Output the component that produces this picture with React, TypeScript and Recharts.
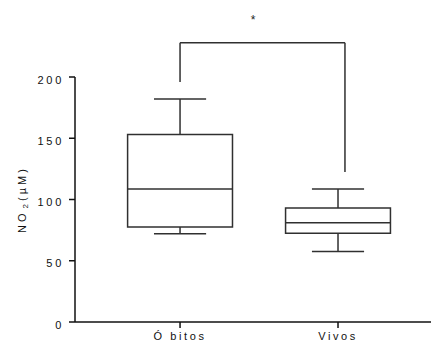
import React from 'react';
import {
  ComposedChart,
  XAxis,
  YAxis,
  ReferenceArea,
  ReferenceLine,
  ReferenceDot,
  Scatter,
} from 'recharts';

const categories = ['Ó bitos', 'Vivos'];
const positions = [0, 1];
const mins = [72, 57.5];
const q1s = [77.5, 72.5];
const medians = [108.5, 81];
const q3s = [153, 93];
const maxs = [182, 108.5];
const yTicks = [0, 50, 100, 150, 200];

// significance bracket: left x, right x, top, left end, right end
const bracketX = [0, 1.044];
const bracketTop = 228;
const bracketEnds = [196, 122.5];
const starPos = { x: 0.462, y: 249, text: '*' };

const BOX_HALF = 0.332;
const CAP_HALF = 0.165;
const LINE = '#303030';
const FONT = '"Liberation Sans", Arial, sans-serif';

const data = positions.map((p, i) => ({ x: p, y: medians[i] }));

const XTick = (props: any) => {
  const { x, y, payload } = props;
  const idx = positions.indexOf(payload.value);
  return (
    <text
      x={x}
      y={y + 8}
      textAnchor="middle"
      fontFamily={FONT}
      fontSize={11}
      letterSpacing={2.6}
      fill="#111"
    >
      {categories[idx]}
    </text>
  );
};

const YTick = (props: any) => {
  const { x, y, payload } = props;
  return (
    <text
      x={x}
      y={y + 6.5}
      textAnchor="end"
      fontFamily={FONT}
      fontSize={11}
      letterSpacing={2.7}
      fill="#111"
    >
      {payload.value}
    </text>
  );
};

const YLabel = (props: any) => {
  const vb = props.viewBox || { x: 7, y: 69, width: 60, height: 245 };
  const cx = vb.x + 11;
  const cy = vb.y + vb.height / 2;
  return (
    <text
      x={cx}
      y={cy}
      transform={`rotate(-90 ${cx} ${cy})`}
      textAnchor="middle"
      fontFamily={FONT}
      fontSize={11}
      letterSpacing={3}
      fill="#111"
    >
      NO
      <tspan fontSize={8} dy={1.5} dx={2}>2</tspan>
      <tspan dy={-1.5}>(µM)</tspan>
    </text>
  );
};

export default function App() {
  return (
    <ComposedChart
      width={431}
      height={343}
      data={data}
      margin={{ top: 69, right: 1, bottom: 0, left: 7 }}
    >
      <XAxis
        dataKey="x"
        type="number"
        domain={[-0.665, 1.633]}
        allowDataOverflow
        ticks={positions}
        tick={<XTick />}
        tickSize={6}
        tickMargin={4}
        height={29}
        stroke="#111"
        strokeWidth={1.5}
        interval={0}
      />
      <YAxis
        type="number"
        domain={[0, 200]}
        ticks={yTicks}
        tick={<YTick />}
        tickSize={6}
        tickMargin={5}
        width={60}
        stroke="#111"
        strokeWidth={1.5}
        allowDataOverflow
        label={<YLabel />}
      />
      {positions.map((p, i) => (
        <ReferenceLine
          key={`wu${i}`}
          segment={[{ x: p, y: q3s[i] }, { x: p, y: maxs[i] }]}
          stroke={LINE}
          strokeWidth={1.5}
        />
      ))}
      {positions.map((p, i) => (
        <ReferenceLine
          key={`wl${i}`}
          segment={[{ x: p, y: mins[i] }, { x: p, y: q1s[i] }]}
          stroke={LINE}
          strokeWidth={1.5}
        />
      ))}
      {positions.map((p, i) => (
        <ReferenceLine
          key={`cu${i}`}
          segment={[{ x: p - CAP_HALF, y: maxs[i] }, { x: p + CAP_HALF, y: maxs[i] }]}
          stroke={LINE}
          strokeWidth={1.5}
        />
      ))}
      {positions.map((p, i) => (
        <ReferenceLine
          key={`cl${i}`}
          segment={[{ x: p - CAP_HALF, y: mins[i] }, { x: p + CAP_HALF, y: mins[i] }]}
          stroke={LINE}
          strokeWidth={1.5}
        />
      ))}
      {positions.map((p, i) => (
        <ReferenceArea
          key={`box${i}`}
          x1={p - BOX_HALF}
          x2={p + BOX_HALF}
          y1={q1s[i]}
          y2={q3s[i]}
          fill="#fff"
          fillOpacity={1}
          stroke={LINE}
          strokeWidth={1.5}
        />
      ))}
      {positions.map((p, i) => (
        <ReferenceLine
          key={`med${i}`}
          segment={[{ x: p - BOX_HALF, y: medians[i] }, { x: p + BOX_HALF, y: medians[i] }]}
          stroke={LINE}
          strokeWidth={1.5}
        />
      ))}
      <ReferenceLine
        segment={[{ x: bracketX[0], y: bracketEnds[0] }, { x: bracketX[0], y: bracketTop }]}
        stroke={LINE}
        strokeWidth={1.5}
        ifOverflow="visible"
      />
      <ReferenceLine
        segment={[{ x: bracketX[0], y: bracketTop }, { x: bracketX[1], y: bracketTop }]}
        stroke={LINE}
        strokeWidth={1.5}
        ifOverflow="visible"
      />
      <ReferenceLine
        segment={[{ x: bracketX[1], y: bracketTop }, { x: bracketX[1], y: bracketEnds[1] }]}
        stroke={LINE}
        strokeWidth={1.5}
        ifOverflow="visible"
      />
      <ReferenceDot
        x={starPos.x}
        y={starPos.y}
        r={0}
        ifOverflow="visible"
        shape={(p: any) => (
          <text
            x={p.cx}
            y={p.cy + 7}
            textAnchor="middle"
            fontFamily={FONT}
            fontSize={12}
            fill="#222"
          >
            {starPos.text}
          </text>
        )}
      />
      <Scatter dataKey="y" isAnimationActive={false} shape={() => null} legendType="none" />
    </ComposedChart>
  );
}
